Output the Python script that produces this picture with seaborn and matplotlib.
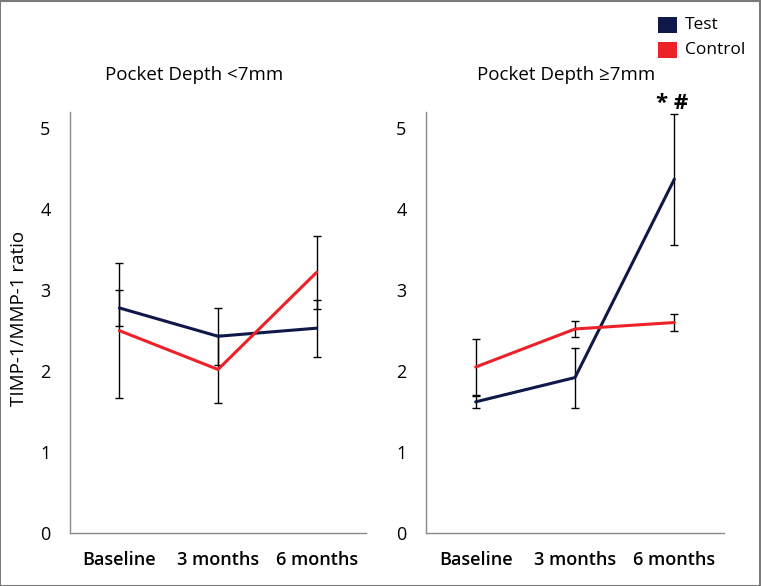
import matplotlib
matplotlib.use("Agg")
import matplotlib.pyplot as plt
import seaborn as sns
import pandas as pd
from matplotlib.patches import Rectangle

categories = ["Baseline", "3 months", "6 months"]
groups = ["Test", "Control"]

# Pocket Depth <7mm
lt_test = [2.78, 2.43, 2.53]
lt_test_err = [0.22, 0.35, 0.35]
lt_ctrl = [2.50, 2.02, 3.22]
lt_ctrl_err = [0.83, 0.42, 0.45]

# Pocket Depth >=7mm
ge_test = [1.62, 1.92, 4.37]
ge_test_err = [0.07, 0.37, 0.81]
ge_ctrl = [2.05, 2.52, 2.60]
ge_ctrl_err = [0.35, 0.10, 0.10]

yticks = [0, 1, 2, 3, 4, 5]
colors = {"Test": "#0f1848", "Control": "#ec2228"}

sns.set_theme(style="white")
plt.rcParams["font.family"] = ["Open Sans", "DejaVu Sans"]
plt.rcParams["text.color"] = "black"
plt.rcParams["xtick.color"] = "black"
plt.rcParams["ytick.color"] = "black"
plt.rcParams["axes.labelcolor"] = "black"

fig = plt.figure(figsize=(7.61, 5.86), dpi=100)
ax1 = fig.add_axes([70 / 761, 1 - 533 / 586, 296 / 761, 421 / 586])
ax2 = fig.add_axes([426 / 761, 1 - 533 / 586, 298 / 761, 421 / 586])


def draw(ax, test, test_err, ctrl, ctrl_err, title, tx):
    df = pd.DataFrame({
        "time": categories * 2,
        "value": list(test) + list(ctrl),
        "group": ["Test"] * 3 + ["Control"] * 3,
    })
    sns.lineplot(data=df, x="time", y="value", hue="group", palette=colors,
                 linewidth=2.2, ax=ax, legend=False, sort=False)
    x = list(range(len(categories)))
    ax.errorbar(x, test, yerr=test_err, fmt="none", ecolor="black",
                elinewidth=1, capsize=3, capthick=1, zorder=1)
    ax.errorbar(x, ctrl, yerr=ctrl_err, fmt="none", ecolor="black",
                elinewidth=1, capsize=3, capthick=1, zorder=1)
    ax.set_xlim(-0.5, 2.5)
    ax.set_ylim(0, 5.2)
    ax.set_yticks(yticks)
    ax.set_yticklabels([str(t) for t in yticks], fontsize=13)
    ax.set_xticks(x)
    ax.set_xticklabels(categories, fontsize=13, fontweight="semibold")
    ax.tick_params(axis="y", length=0, pad=14)
    ax.tick_params(axis="x", length=0, pad=13)
    ax.set_xlabel("")
    ax.set_ylabel("")
    for s in ["top", "right"]:
        ax.spines[s].set_visible(False)
    for s in ["left", "bottom"]:
        ax.spines[s].set_color("#8a8a8a")
        ax.spines[s].set_linewidth(1)
    ax.set_title(title, fontsize=13.5, x=tx, y=1.0, pad=23)


draw(ax1, lt_test, lt_test_err, lt_ctrl, lt_ctrl_err, "Pocket Depth <7mm", 0.42)
draw(ax2, ge_test, ge_test_err, ge_ctrl, ge_ctrl_err, "Pocket Depth \u22657mm", 0.47)
ax1.set_ylabel("TIMP-1/MMP-1 ratio", fontsize=13.5)
ax1.yaxis.set_label_coords(-0.142, 0.51)

ax2.text(1.98, 5.18, "* #", ha="center", va="bottom", fontsize=16,
         fontweight="bold")

# Legend
for i, g in enumerate(groups):
    y0 = 1 - (33 + 25 * i) / 586
    fig.patches.append(Rectangle((658 / 761, y0), 19 / 761, 16 / 586,
                                 transform=fig.transFigure,
                                 facecolor=colors[g], edgecolor="none"))
    fig.text(685 / 761, y0 + 8 / 586, g, fontsize=12.5, va="center",
             ha="left")

# Outer frame
fig.patches.append(Rectangle((0.0005, 0.0008), 0.998, 0.998,
                             transform=fig.transFigure, facecolor="none",
                             edgecolor="#7a7a7a", linewidth=1.5))

fig.savefig("out.png", dpi=100)
